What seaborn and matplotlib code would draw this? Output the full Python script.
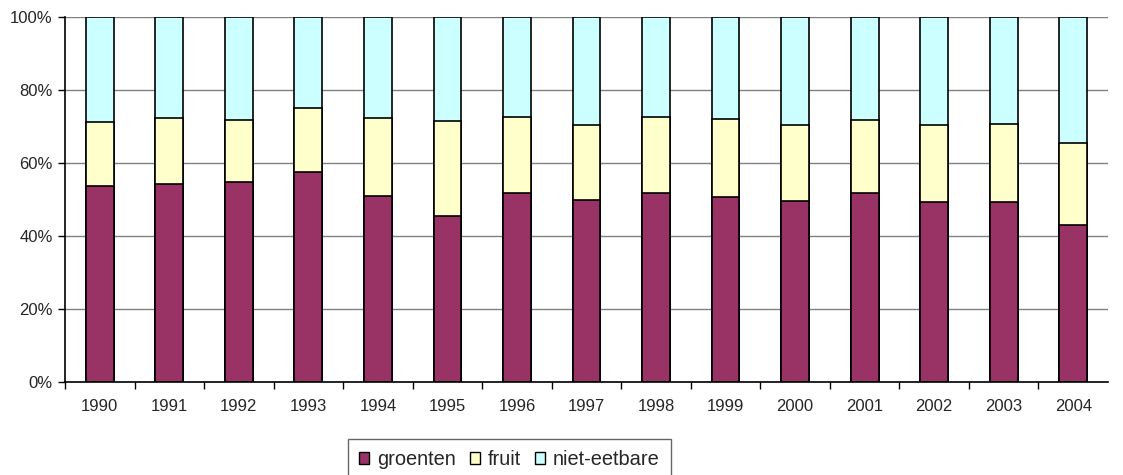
import numpy as np
import pandas as pd
import matplotlib
matplotlib.use("Agg")
import matplotlib.pyplot as plt
import seaborn as sns
from matplotlib.patches import Patch

# Aandeel per jaar (in %)
years = ["1990", "1991", "1992", "1993", "1994", "1995", "1996", "1997",
         "1998", "1999", "2000", "2001", "2002", "2003", "2004"]
groenten = [53.8, 54.2, 54.7, 57.4, 51.0, 45.6, 51.9, 49.8,
            51.9, 50.6, 49.7, 51.9, 49.3, 49.3, 42.9]
fruit = [17.3, 18.0, 17.0, 17.8, 21.2, 26.0, 20.8, 20.5,
         20.7, 21.5, 20.6, 19.8, 21.0, 21.5, 22.5]
niet_eetbaar = [28.9, 27.8, 28.3, 24.8, 27.8, 28.4, 27.3, 29.7,
                27.4, 27.9, 29.7, 28.3, 29.7, 29.2, 34.6]
y_ticks = [0, 20, 40, 60, 80, 100]
y_labels = ["0%", "20%", "40%", "60%", "80%", "100%"]

series_names = ["groenten", "fruit", "niet-eetbare"]
colors = ["#993366", "#FFFFCC", "#CCFFFF"]

df = pd.DataFrame({"jaar": years, "groenten": groenten,
                   "fruit": fruit, "niet-eetbare": niet_eetbaar})
# cumulatief voor gestapelde balken (achterste eerst tekenen)
df["cum_fruit"] = df["groenten"] + df["fruit"]
df["cum_niet"] = df["cum_fruit"] + df["niet-eetbare"]

sns.set_style("white")
plt.rcParams["font.family"] = ["Liberation Sans", "DejaVu Sans"]

fig = plt.figure(figsize=(11.23, 4.75), dpi=100)
ax = fig.add_axes([65 / 1123, 93 / 475, 1043 / 1123, 365 / 475])

for col, c in zip(["cum_niet", "cum_fruit", "groenten"], colors[::-1]):
    sns.barplot(data=df, x="jaar", y=col, color=c, width=0.4,
                edgecolor="black", linewidth=1.2, saturation=1, ax=ax, zorder=3)

ax.set_xlim(-0.5, len(years) - 0.5)
ax.set_ylim(0, 100)
ax.set_yticks(y_ticks)
ax.set_yticklabels(y_labels)
ax.set_xlabel("")
ax.set_ylabel("")

ax.grid(axis="y", color="#808080", linewidth=1, zorder=0)
ax.set_axisbelow(True)
for s in ["top", "right"]:
    ax.spines[s].set_visible(False)
for s in ["left", "bottom"]:
    ax.spines[s].set_color("black")
    ax.spines[s].set_linewidth(1.2)
    ax.spines[s].set_zorder(4)

ax.tick_params(axis="y", direction="out", length=5, width=1, color="black",
               labelsize=12, pad=4, left=True)
ax.tick_params(axis="x", which="major", length=0, labelsize=12, pad=12)
ax.set_xticks(np.arange(-0.5, len(years) - 0.5, 1), minor=True)
ax.tick_params(axis="x", which="minor", direction="out", length=5, width=1,
               color="black", bottom=True)

handles = [Patch(facecolor=c, edgecolor="black", linewidth=1) for c in colors]
leg = fig.legend(handles, series_names, ncol=3, loc="upper center",
                 bbox_to_anchor=(0.4537, 0.0758), fontsize=14.4,
                 frameon=True, fancybox=False, edgecolor="#404040",
                 handlelength=0.5, handleheight=0.5, handletextpad=0.4,
                 columnspacing=0.7, borderpad=0.55, borderaxespad=0)
leg.get_frame().set_linewidth(1)

fig.savefig("out.png", dpi=100)
